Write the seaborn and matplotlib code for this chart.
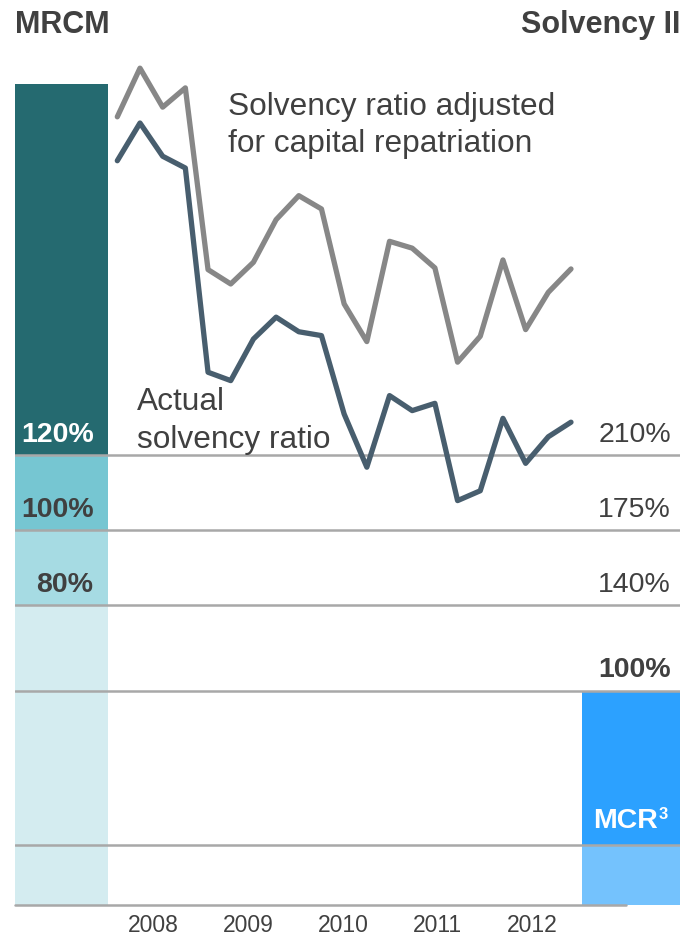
import numpy as np
import pandas as pd
import matplotlib.pyplot as plt
import seaborn as sns

# quarterly solvency ratios, 2008 Q1 .. 2013 Q1 (in % of Solvency II SCR)
quarters = list(range(21))
adjusted = [367.8, 390.5, 372.3, 381.3, 296.5, 289.8, 299.9, 319.8, 331.0, 324.8, 280.5,
            262.9, 309.7, 306.5, 297.3, 253.3, 265.4, 301.0, 268.5, 285.9, 296.8]
actual = [347.3, 364.9, 349.4, 343.9, 248.6, 244.7, 264.1, 274.3, 267.5, 265.7, 229.1,
          204.3, 237.7, 230.7, 234.1, 188.7, 193.3, 227.1, 206.1, 218.5, 225.3]
years = ["2008", "2009", "2010", "2011", "2012"]

# threshold levels on the Solvency II scale
sii_levels = [210, 175, 140, 100]
sii_labels = ["210%", "175%", "140%", "100%"]
mrcm_labels = ["120%", "100%", "80%"]
mrcm_bounds = [0, 140, 175, 210, 383]
mcr_bounds = [0, 28, 100]

W, H = 680, 937
TXT = "#404040"
GRID = "#a8a8a8"

sns.set_theme(style="white")
plt.rcParams['font.family'] = ['Liberation Sans', 'DejaVu Sans']

fig = plt.figure(figsize=(W / 100, H / 100), dpi=100)
# axes: x from 15px to 680px, y zero at 906px with 2.143 px per %
ax = fig.add_axes([15 / W, (H - 906) / H, 665 / W, 857.2 / H])
x0, dx = 117.3, 22.685
ax.set_xlim((15 - x0) / dx, (680 - x0) / dx)
ax.set_ylim(0, 400)


def px(x, y):
    return x / W, 1 - y / H


# MRCM column (left)
mrcm_cols = ["#d4ecf0", "#a6dbe3", "#76c6d2", "#256a70"]
lx0, lx1 = (15 - x0) / dx, (108 - x0) / dx
for lo, hi, c in zip(mrcm_bounds[:-1], mrcm_bounds[1:], mrcm_cols):
    ax.bar((lx0 + lx1) / 2, hi - lo, bottom=lo, width=lx1 - lx0, color=c, linewidth=0, zorder=1)

# MCR column (right)
mcr_cols = ["#74c2fd", "#2ca1ff"]
rx0, rx1 = (582 - x0) / dx, (680 - x0) / dx
for lo, hi, c in zip(mcr_bounds[:-1], mcr_bounds[1:], mcr_cols):
    ax.bar((rx0 + rx1) / 2, hi - lo, bottom=lo, width=rx1 - rx0, color=c, linewidth=0, zorder=1)

# separator lines
for lv in sii_levels + [mcr_bounds[1]]:
    ax.axhline(lv, color=GRID, lw=1.8, zorder=2)
ax.axhline(0, xmin=0, xmax=(626 - 15) / 665, color=GRID, lw=1.8, zorder=2, clip_on=False)

df = pd.DataFrame({
    "quarter": quarters * 2,
    "ratio": adjusted + actual,
    "series": ["adjusted"] * 21 + ["actual"] * 21,
})
sns.lineplot(data=df, x="quarter", y="ratio", hue="series",
             palette={"adjusted": "#878787", "actual": "#485e6e"},
             linewidth=3.8, legend=False, ax=ax, zorder=3)

# year labels
ax.set_xticks([(p - x0) / dx for p in [153, 248, 343, 437.5, 532.5]])
ax.set_xticklabels(years, fontsize=16.5, color=TXT)
ax.tick_params(axis="x", length=0, pad=6)
ax.set_yticks([])
ax.set_xlabel("")
ax.set_ylabel("")
for s in ax.spines.values():
    s.set_visible(False)

# headers
fig.text(*px(15, 33), "MRCM", fontsize=22, fontweight="bold", color=TXT, va="baseline", ha="left")
fig.text(*px(680, 33), "Solvency II", fontsize=22, fontweight="bold", color=TXT, va="baseline", ha="right")

# series annotations
fig.text(*px(228, 115), "Solvency ratio adjusted", fontsize=22.8, color=TXT, va="baseline")
fig.text(*px(228, 152), "for capital repatriation", fontsize=22.8, color=TXT, va="baseline")
fig.text(*px(137, 410), "Actual", fontsize=22.8, color=TXT, va="baseline")
fig.text(*px(137, 448), "solvency ratio", fontsize=22.8, color=TXT, va="baseline")

# MRCM level labels
for lab, yb, c in zip(mrcm_labels, [442, 517, 592], ["white", TXT, TXT]):
    fig.text(*px(93.5, yb), lab, fontsize=20.5, fontweight="bold", color=c, va="baseline", ha="right")

# Solvency II level labels
for lab, yb in zip(sii_labels[:3], [442, 517, 592]):
    fig.text(*px(671, yb), lab, fontsize=20.5, color=TXT, va="baseline", ha="right")
fig.text(*px(671, 677), sii_labels[3], fontsize=20.5, fontweight="bold", color=TXT, va="baseline", ha="right")
fig.text(*px(658, 828), "MCR", fontsize=20.5, fontweight="bold", color="white", va="baseline", ha="right")
fig.text(*px(659, 819), "3", fontsize=12, fontweight="bold", color="white", va="baseline", ha="left")

fig.savefig("out.png", dpi=100)
